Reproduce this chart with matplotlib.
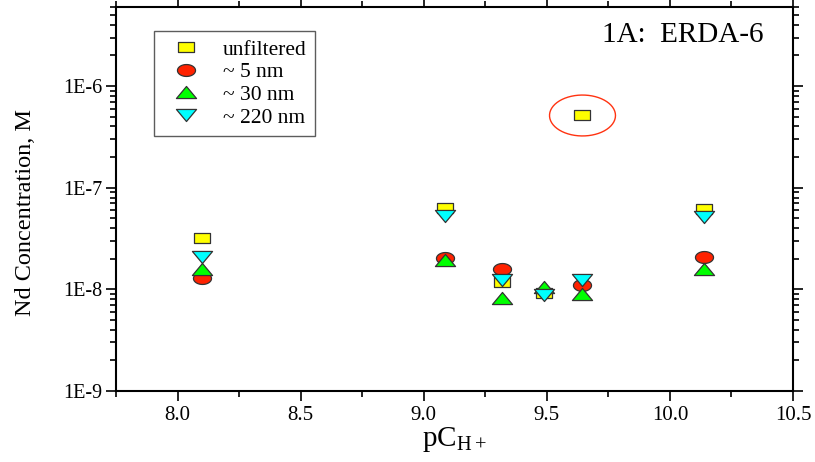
import numpy as np
import matplotlib
matplotlib.use("Agg")
import matplotlib.pyplot as plt
from matplotlib.path import Path
from matplotlib.ticker import FixedLocator, FuncFormatter, MultipleLocator

# ----------------------------
# Data
# ----------------------------
pch = [8.10, 9.085, 9.32, 9.49, 9.643, 10.138]
unfiltered = [3.2e-8, 6.3e-8, 1.18e-8, 9.3e-9, 5.2e-7, 6.2e-8]
nm5 = [1.28e-8, 2.03e-8, 1.6e-8, np.nan, 1.1e-8, 2.1e-8]
nm30 = [1.57e-8, 1.95e-8, 8.2e-9, 1.05e-8, 9.1e-9, 1.6e-8]
nm220 = [2.1e-8, 5.3e-8, 1.24e-8, 8.8e-9, 1.24e-8, 5.2e-8]
labels = ["unfiltered", "~ 5 nm", "~ 30 nm", "~ 220 nm"]
y_ticks = [1e-9, 1e-8, 1e-7, 1e-6]
x_ticks = [8.0, 8.5, 9.0, 9.5, 10.0, 10.5]


# ----------------------------
# Stretched marker shapes (the original is wider than tall)
# ----------------------------
def rect_marker(ratio):
    verts = [(-1, -ratio), (1, -ratio), (1, ratio), (-1, ratio), (-1, -ratio)]
    return Path(verts, closed=True)


def ellipse_marker(ratio):
    t = np.linspace(0, 2 * np.pi, 60)
    verts = np.column_stack([np.cos(t), ratio * np.sin(t)])
    return Path(verts, closed=True)


def tri_marker(ratio, up=True):
    s = 1 if up else -1
    verts = [(0, s * ratio), (-1, -s * ratio), (1, -s * ratio), (0, s * ratio)]
    return Path(verts, closed=True)


plt.rcParams['font.family'] = ['Liberation Serif', 'DejaVu Serif']
plt.rcParams['mathtext.fontset'] = 'custom'
plt.rcParams['mathtext.rm'] = 'Liberation Serif'

fig = plt.figure(figsize=(8.15, 4.62), dpi=100)
ax = fig.add_axes([0.1423, 0.1537, 0.8307, 0.8313])

series = [
    (unfiltered, rect_marker(0.66), "#ffff00", 11.0),
    (nm5, ellipse_marker(0.66), "#ff2200", 13.0),
    (nm30, tri_marker(0.6, True), "#00ff00", 14.5),
    (nm220, tri_marker(0.6, False), "#00ffff", 14.5),
]
for (vals, mk, col, ms), lab in zip(series, labels):
    ax.plot(pch, vals, linestyle="none", marker=mk, markersize=ms,
            markerfacecolor=col, markeredgecolor="#333333", markeredgewidth=0.9,
            label=lab)

# red ring around the outlier
i_out = int(np.nanargmax(unfiltered))
ax.plot(pch[i_out], unfiltered[i_out], linestyle="none", marker=ellipse_marker(0.62),
        markersize=47.5, markerfacecolor="none", markeredgecolor="#ff3311",
        markeredgewidth=1.0)

ax.set_yscale("log")
ax.set_xlim(7.75, 10.5)
ax.set_ylim(1e-9, 6e-6)

ax.xaxis.set_major_locator(FixedLocator(x_ticks))
ax.xaxis.set_minor_locator(MultipleLocator(0.25))
ax.xaxis.set_major_formatter(FuncFormatter(lambda v, p: f"{v:.1f}"))
ax.yaxis.set_major_locator(FixedLocator(y_ticks))
ax.yaxis.set_major_formatter(FuncFormatter(lambda v, p: f"1E{int(round(np.log10(v)))}"))

ax.tick_params(which="both", direction="out", top=True, right=True, width=1.2)
ax.tick_params(which="major", length=7, pad=4)
ax.tick_params(which="minor", length=4.5)
ax.tick_params(axis="x", which="major", labelsize=15, pad=4)
ax.tick_params(axis="y", which="major", labelsize=14.5, pad=3)
for sp in ax.spines.values():
    sp.set_linewidth(1.5)

ax.set_ylabel("Nd Concentration, M", fontsize=17.5)
ax.yaxis.set_label_coords(-0.118, 0.466)
ax.set_xlabel(r"pC$_{\mathrm{H+}}$", fontsize=21, labelpad=0)
ax.text(0.956, 0.909, "1A:  ERDA-6", transform=ax.transAxes, ha="right", va="baseline",
        fontsize=21)

leg = ax.legend(loc="upper left", bbox_to_anchor=(0.056, 0.9375), fontsize=15.5,
                frameon=True, fancybox=False, edgecolor="#333333", handletextpad=0.6,
                labelspacing=0.12, borderpad=0.4, handlelength=2.2, borderaxespad=0)
leg.get_frame().set_linewidth(1.0)

fig.savefig("out.png", dpi=100)
